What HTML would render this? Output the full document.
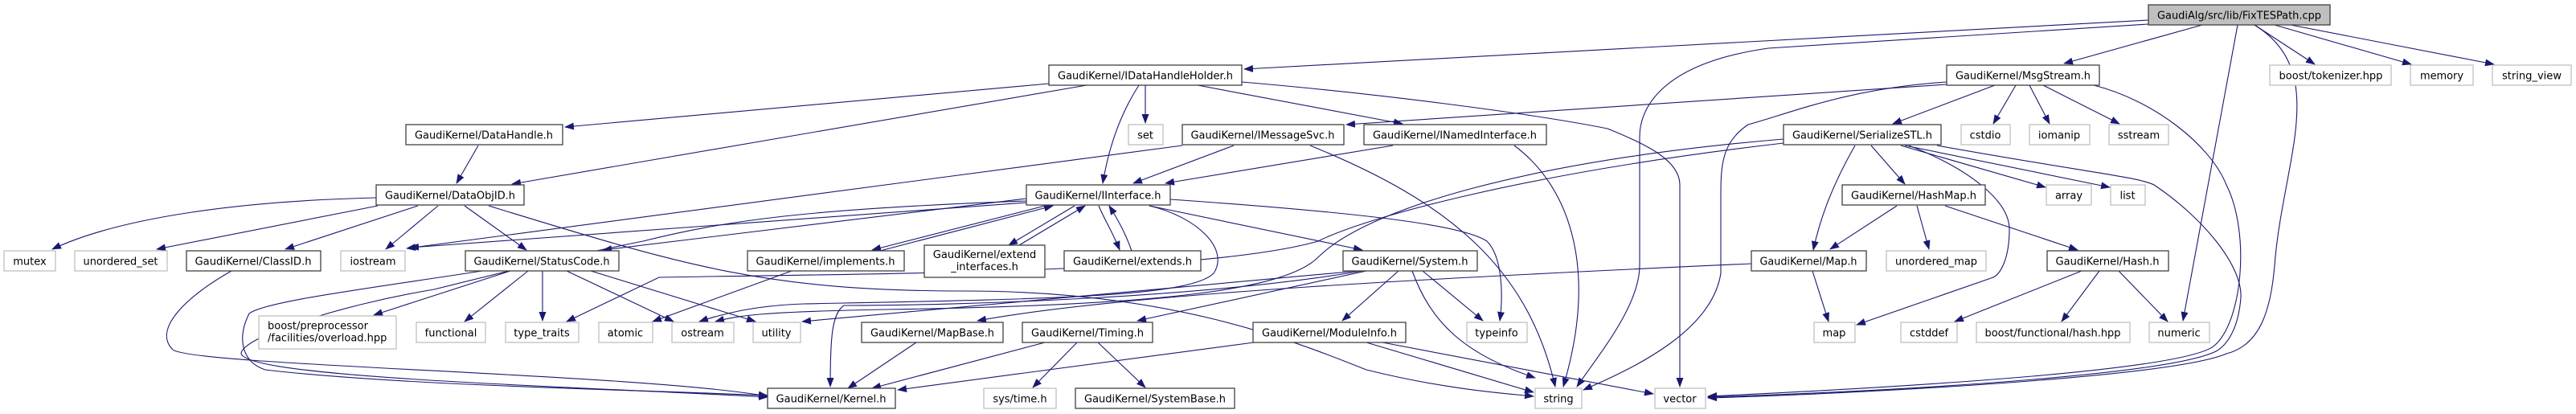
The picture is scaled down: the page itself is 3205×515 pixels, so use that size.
<!DOCTYPE html>
<html><head><meta charset="utf-8"><style>
html,body{margin:0;padding:0;background:#fff;}
svg{display:block;}
text{font-family:"DejaVu Sans","Liberation Sans",sans-serif;font-size:13px;fill:#000;text-anchor:middle;}
.n{fill:#fff;stroke:#404040;stroke-width:1.3;}
.x{fill:#fff;stroke:#bfbfbf;stroke-width:1.3;}
.e{fill:none;stroke:#191970;stroke-width:1.1;}
</style></head><body>
<svg width="3205" height="515" viewBox="0 0 3205 515" xmlns="http://www.w3.org/2000/svg">
<defs><marker id="a" markerWidth="12" markerHeight="9" refX="11" refY="4.5" orient="auto" markerUnits="userSpaceOnUse"><path d="M0,0 L12,4.5 L0,9 z" fill="#191970"/></marker></defs>
<g class="e" marker-end="url(#a)">
<path d="M2673,25 L1548,86"/>
<path d="M2673,30 L2200,60 C2060,80 2040,140 2040,170 L2040,330 C2040,380 1990,440 1962,481"/>
<path d="M2740,31 L2568,79"/>
<path d="M2784,31 L2716,399"/>
<path d="M2805,31 C2900,90 2840,200 2830,330 C2825,390 2810,430 2770,440 C2700,470 2300,490 2125,495"/>
<path d="M2805,31 L2880,80"/>
<path d="M2830,31 L3000,80"/>
<path d="M2850,31 L3103,80"/>
<path d="M1305,104 L703,158"/>
<path d="M1352,106 L637,229"/>
<path d="M1417,106 C1395,140 1380,180 1372,228"/>
<path d="M1425,106 L1425,153"/>
<path d="M1490,106 L1745,154"/>
<path d="M1545,102 C1700,115 1900,140 2000,160 C2050,180 2090,200 2090,230 L2090,481"/>
<path d="M2422,105 L1675,155"/>
<path d="M2482,106 L2355,154"/>
<path d="M2508,106 L2480,154"/>
<path d="M2525,106 L2550,154"/>
<path d="M2542,106 L2637,154"/>
<path d="M2422,102 C2300,110 2230,140 2175,155 C2145,175 2141,200 2141,240 L2141,340 C2130,410 2040,455 1970,485"/>
<path d="M2605,106 C2680,125 2750,180 2770,230 C2800,290 2790,400 2755,430 C2720,460 2400,480 2125,493"/>
<path d="M1535,181 L1410,228"/>
<path d="M1630,181 C1800,250 1900,330 1935,481"/>
<path d="M1471,181 L506,309"/>
<path d="M1733,181 L1450,228"/>
<path d="M1884,181 C1950,230 1990,330 1945,481"/>
<path d="M2308,181 C2280,230 2265,270 2256,311"/>
<path d="M2328,181 L2370,229"/>
<path d="M2365,181 L2545,233"/>
<path d="M2370,181 L2625,233"/>
<path d="M2375,181 C2450,210 2500,250 2500,285 C2500,320 2490,340 2480,345 L2310,404"/>
<path d="M2410,181 C2600,215 2660,220 2680,230 C2740,270 2790,330 2788,370 C2785,410 2770,430 2757,437 C2700,465 2400,485 2125,494"/>
<path d="M2219,173 C1900,200 1700,260 1640,320 C1600,360 1450,380 1100,385 C950,388 920,392 890,400"/>
<path d="M2219,178 C1900,215 1700,270 1640,300 C1500,340 1100,340 820,345 L705,400"/>
<path d="M2360,256 L2277,310"/>
<path d="M2385,256 L2400,310"/>
<path d="M2420,256 L2585,311"/>
<path d="M2255,337 L2275,400"/>
<path d="M2179,328 C1800,345 1400,365 1216,399"/>
<path d="M2590,337 L2432,400"/>
<path d="M2612,337 L2565,400"/>
<path d="M2636,337 L2697,400"/>
<path d="M1300,256 L1085,311"/>
<path d="M1095,312 L1310,256"/>
<path d="M1337,256 L1255,305"/>
<path d="M1268,305 L1350,256"/>
<path d="M1367,256 C1375,275 1385,290 1393,311"/>
<path d="M1408,312 C1400,290 1392,275 1380,256"/>
<path d="M1277,247 L750,311"/>
<path d="M1430,256 L1695,311"/>
<path d="M1456,248 C1700,265 1820,280 1850,300 C1870,320 1870,370 1866,399"/>
<path d="M1430,256 C1490,270 1530,310 1510,340 C1480,370 1300,372 1000,378 C940,380 900,390 870,400"/>
<path d="M1277,250 C1000,260 900,275 800,300 C700,320 600,345 540,360 C420,380 300,420 300,440 C310,470 700,480 955,494"/>
<path d="M1277,252 L510,308"/>
<path d="M595,181 L568,228"/>
<path d="M468,246 C300,250 150,270 65,310"/>
<path d="M470,256 L195,310"/>
<path d="M520,256 L355,310"/>
<path d="M545,256 L480,310"/>
<path d="M578,256 L655,311"/>
<path d="M608,256 C850,330 950,362 1200,362 C1450,362 1600,420 1700,460 C1800,485 1880,490 1908,493"/>
<path d="M288,337 C230,370 190,410 215,435 C240,455 800,465 955,493"/>
<path d="M635,337 L465,392"/>
<path d="M657,337 L578,400"/>
<path d="M675,337 L675,399"/>
<path d="M705,337 L838,400"/>
<path d="M735,337 L940,400"/>
<path d="M600,337 C450,360 330,375 310,390 C295,420 300,450 330,460 C500,480 800,485 955,492"/>
<path d="M985,337 L812,400"/>
<path d="M1740,337 L1670,399"/>
<path d="M1770,337 L1845,399"/>
<path d="M1757,337 C1780,400 1820,440 1910,470"/>
<path d="M1700,337 L1415,399"/>
<path d="M1695,337 C1500,370 1200,380 1050,380 C1035,390 1033,420 1033,481"/>
<path d="M1690,337 L998,400"/>
<path d="M1560,426 L1117,485"/>
<path d="M1700,426 L1908,488"/>
<path d="M1720,426 L2057,490"/>
<path d="M1300,426 L1085,483"/>
<path d="M1340,426 L1285,482"/>
<path d="M1366,426 L1425,482"/>
<path d="M1140,426 L1055,483"/>
</g>
<g>
<rect x="2673" y="6" width="226" height="25" fill="#bfbfbf" stroke="#404040" stroke-width="1.3"/><text x="2786" y="23.5" textLength="204" lengthAdjust="spacingAndGlyphs">GaudiAlg/src/lib/FixTESPath.cpp</text>
<rect class="n" x="1305" y="81" width="240" height="25"/><text x="1425" y="98.5" textLength="218" lengthAdjust="spacingAndGlyphs">GaudiKernel/IDataHandleHolder.h</text>
<rect class="n" x="2422" y="81" width="190" height="25"/><text x="2517" y="98.5" textLength="168" lengthAdjust="spacingAndGlyphs">GaudiKernel/MsgStream.h</text>
<rect class="x" x="2824" y="81" width="151" height="25"/><text x="2900" y="98.5" textLength="129" lengthAdjust="spacingAndGlyphs">boost/tokenizer.hpp</text>
<rect class="x" x="2999" y="81" width="78" height="25"/><text x="3038" y="98.5" textLength="54" lengthAdjust="spacingAndGlyphs">memory</text>
<rect class="x" x="3101" y="81" width="98" height="25"/><text x="3150" y="98.5" textLength="74" lengthAdjust="spacingAndGlyphs">string_view</text>
<rect class="n" x="505" y="155" width="195" height="25"/><text x="602" y="172.5" textLength="172" lengthAdjust="spacingAndGlyphs">GaudiKernel/DataHandle.h</text>
<rect class="x" x="1404" y="155" width="43" height="25"/><text x="1425" y="172.5">set</text>
<rect class="n" x="1471" y="155" width="201" height="25"/><text x="1571" y="172.5" textLength="179" lengthAdjust="spacingAndGlyphs">GaudiKernel/IMessageSvc.h</text>
<rect class="n" x="1697" y="155" width="227" height="25"/><text x="1810" y="172.5" textLength="204" lengthAdjust="spacingAndGlyphs">GaudiKernel/INamedInterface.h</text>
<rect class="n" x="2219" y="155" width="196" height="25"/><text x="2317" y="172.5" textLength="174" lengthAdjust="spacingAndGlyphs">GaudiKernel/SerializeSTL.h</text>
<rect class="x" x="2440" y="155" width="61" height="25"/><text x="2470" y="172.5">cstdio</text>
<rect class="x" x="2525" y="155" width="75" height="25"/><text x="2562" y="172.5">iomanip</text>
<rect class="x" x="2624" y="155" width="74" height="25"/><text x="2661" y="172.5">sstream</text>
<rect class="n" x="468" y="230" width="184" height="25"/><text x="560" y="247.5" textLength="162" lengthAdjust="spacingAndGlyphs">GaudiKernel/DataObjID.h</text>
<rect class="n" x="1277" y="230" width="179" height="25"/><text x="1366" y="247.5" textLength="157" lengthAdjust="spacingAndGlyphs">GaudiKernel/IInterface.h</text>
<rect class="n" x="2292" y="230" width="178" height="25"/><text x="2381" y="247.5" textLength="156" lengthAdjust="spacingAndGlyphs">GaudiKernel/HashMap.h</text>
<rect class="x" x="2546" y="230" width="56" height="25"/><text x="2574" y="247.5">array</text>
<rect class="x" x="2626" y="230" width="43" height="25"/><text x="2647" y="247.5">list</text>
<rect class="x" x="5" y="312" width="64" height="25"/><text x="37" y="329.5">mutex</text>
<rect class="x" x="93" y="312" width="115" height="25"/><text x="150" y="329.5" textLength="93" lengthAdjust="spacingAndGlyphs">unordered_set</text>
<rect class="n" x="232" y="312" width="167" height="25"/><text x="315" y="329.5" textLength="145" lengthAdjust="spacingAndGlyphs">GaudiKernel/ClassID.h</text>
<rect class="x" x="424" y="312" width="80" height="25"/><text x="464" y="329.5">iostream</text>
<rect class="n" x="579" y="312" width="191" height="25"/><text x="674" y="329.5" textLength="169" lengthAdjust="spacingAndGlyphs">GaudiKernel/StatusCode.h</text>
<rect class="n" x="930" y="312" width="195" height="25"/><text x="1027" y="329.5" textLength="173" lengthAdjust="spacingAndGlyphs">GaudiKernel/implements.h</text>
<rect class="n" x="1150" y="305" width="150" height="40"/><text x="1225" y="321">GaudiKernel/extend</text><text x="1225" y="336">_interfaces.h</text>
<rect class="n" x="1324" y="312" width="170" height="25"/><text x="1409" y="329.5" textLength="148" lengthAdjust="spacingAndGlyphs">GaudiKernel/extends.h</text>
<rect class="n" x="1671" y="312" width="167" height="25"/><text x="1754" y="329.5" textLength="145" lengthAdjust="spacingAndGlyphs">GaudiKernel/System.h</text>
<rect class="n" x="2179" y="312" width="143" height="25"/><text x="2250" y="329.5" textLength="121" lengthAdjust="spacingAndGlyphs">GaudiKernel/Map.h</text>
<rect class="x" x="2347" y="312" width="124" height="25"/><text x="2409" y="329.5" textLength="102" lengthAdjust="spacingAndGlyphs">unordered_map</text>
<rect class="n" x="2547" y="312" width="151" height="25"/><text x="2622" y="329.5" textLength="129" lengthAdjust="spacingAndGlyphs">GaudiKernel/Hash.h</text>
<rect class="x" x="322" y="393" width="171" height="41"/><text x="333" y="409.5" style="text-anchor:start">boost/preprocessor</text><text x="333" y="424.5" style="text-anchor:start">/facilities/overload.hpp</text>
<rect class="x" x="518" y="401" width="86" height="25"/><text x="561" y="418.5">functional</text>
<rect class="x" x="629" y="401" width="91" height="25"/><text x="674" y="418.5">type_traits</text>
<rect class="x" x="745" y="401" width="67" height="25"/><text x="778" y="418.5">atomic</text>
<rect class="x" x="836" y="401" width="77" height="25"/><text x="874" y="418.5">ostream</text>
<rect class="x" x="937" y="401" width="59" height="25"/><text x="966" y="418.5">utility</text>
<rect class="n" x="1072" y="401" width="176" height="25"/><text x="1160" y="418.5" textLength="154" lengthAdjust="spacingAndGlyphs">GaudiKernel/MapBase.h</text>
<rect class="n" x="1272" y="401" width="162" height="25"/><text x="1353" y="418.5" textLength="140" lengthAdjust="spacingAndGlyphs">GaudiKernel/Timing.h</text>
<rect class="n" x="1559" y="401" width="190" height="25"/><text x="1654" y="418.5" textLength="168" lengthAdjust="spacingAndGlyphs">GaudiKernel/ModuleInfo.h</text>
<rect class="x" x="1825" y="401" width="75" height="25"/><text x="1862" y="418.5">typeinfo</text>
<rect class="x" x="2257" y="401" width="51" height="25"/><text x="2282" y="418.5">map</text>
<rect class="x" x="2365" y="401" width="70" height="25"/><text x="2400" y="418.5">cstddef</text>
<rect class="x" x="2459" y="401" width="191" height="25"/><text x="2554" y="418.5" textLength="169" lengthAdjust="spacingAndGlyphs">boost/functional/hash.hpp</text>
<rect class="x" x="2674" y="401" width="75" height="25"/><text x="2711" y="418.5">numeric</text>
<rect class="n" x="955" y="483" width="159" height="25"/><text x="1034" y="500.5" textLength="137" lengthAdjust="spacingAndGlyphs">GaudiKernel/Kernel.h</text>
<rect class="x" x="1224" y="483" width="90" height="25"/><text x="1269" y="500.5">sys/time.h</text>
<rect class="n" x="1338" y="483" width="198" height="25"/><text x="1437" y="500.5" textLength="176" lengthAdjust="spacingAndGlyphs">GaudiKernel/SystemBase.h</text>
<rect class="x" x="1910" y="483" width="58" height="25"/><text x="1939" y="500.5">string</text>
<rect class="x" x="2059" y="483" width="63" height="25"/><text x="2090" y="500.5">vector</text>
</g>
</svg>
</body></html>
